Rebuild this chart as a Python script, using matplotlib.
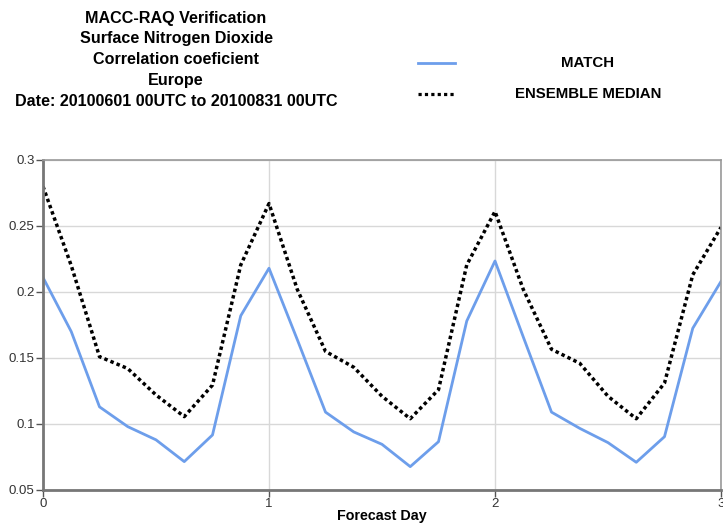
import matplotlib
matplotlib.use("Agg")
import matplotlib.pyplot as plt
from matplotlib.lines import Line2D

plt.rcParams['font.family'] = ['Liberation Sans', 'DejaVu Sans']

forecast_day = [i / 8 for i in range(25)]
match = [0.211, 0.170, 0.113, 0.098, 0.088, 0.0715, 0.0917, 0.182, 0.218,
         0.164, 0.109, 0.094, 0.0846, 0.0677, 0.0866, 0.178, 0.2235,
         0.166, 0.109, 0.0967, 0.0859, 0.071, 0.0904, 0.1725, 0.208]
ensemble_median = [0.280, 0.220, 0.151, 0.142, 0.122, 0.1056, 0.1295, 0.2205, 0.267,
                   0.202, 0.155, 0.143, 0.121, 0.104, 0.126, 0.2205, 0.261,
                   0.202, 0.1566, 0.146, 0.121, 0.104, 0.131, 0.213, 0.249]
x_ticks = [0, 1, 2, 3]
y_ticks = [0.05, 0.1, 0.15, 0.2, 0.25, 0.3]
y_tick_labels = ['0.05', '0.1', '0.15', '0.2', '0.25', '0.3']

title_lines = ["MACC-RAQ Verification", "Surface Nitrogen Dioxide",
               "Correlation coeficient", "Europe",
               "Date: 20100601 00UTC to 20100831 00UTC"]

W, H = 723, 525
fig = plt.figure(figsize=(W / 100, H / 100), dpi=100)
ax = fig.add_axes([43 / W, 1 - 490 / H, (721 - 43) / W, (490 - 160) / H])

blue = '#6d9eeb'
dot_style = (0, (1, 0.9))
ax.plot(forecast_day, match, color=blue, lw=2.0)
ax.plot(forecast_day, ensemble_median, color='black', lw=2.5, linestyle=dot_style)

ax.set_xlim(0, 3)
ax.set_ylim(0.05, 0.3)
ax.set_xticks(x_ticks)
ax.set_xticklabels([str(t) for t in x_ticks])
ax.set_yticks(y_ticks)
ax.set_yticklabels(y_tick_labels)
ax.grid(True, color='#d8d8d8', lw=1.0)
ax.set_axisbelow(True)
ax.tick_params(axis='both', labelsize=9.5, colors='#555555', labelcolor='#333333',
               length=5, width=1, pad=1)
for side in ['left', 'bottom']:
    ax.spines[side].set_color('#777777')
    ax.spines[side].set_linewidth(2)
for side in ['top', 'right']:
    ax.spines[side].set_color('#999999')
    ax.spines[side].set_linewidth(1.2)

fig.text(382 / W, 1 - 516 / H, "Forecast Day", ha='center', va='center',
         fontsize=10.3, fontweight='bold')

for i, line in enumerate(title_lines):
    fig.text(176 / W, 1 - (18 + 20.8 * i) / H, line, ha='center', va='center',
             fontsize=11.6, fontweight='bold')

# legend
fig.add_artist(Line2D([418 / W, 455 / W], [1 - 63 / H, 1 - 63 / H],
                      color=blue, lw=2.0, transform=fig.transFigure))
fig.add_artist(Line2D([418 / W, 455 / W], [1 - 94 / H, 1 - 94 / H],
                      color='black', lw=2.3, linestyle=(0, (1, 1.0)),
                      transform=fig.transFigure))
fig.text(588 / W, 1 - 63 / H, "MATCH", ha='center', va='center',
         fontsize=10.8, fontweight='bold')
fig.text(588 / W, 1 - 94 / H, "ENSEMBLE MEDIAN", ha='center', va='center',
         fontsize=10.8, fontweight='bold')

fig.savefig("out.png", dpi=100)
